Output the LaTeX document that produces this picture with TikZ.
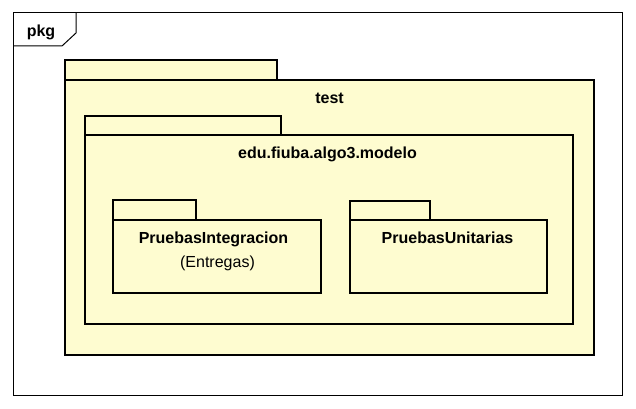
\documentclass[tikz,border=0pt]{standalone}
\usepackage{fontspec}
\setmainfont{Liberation Sans}
\usepackage{tikz}
\usetikzlibrary{calc}
\definecolor{pkgfill}{RGB}{254,252,208}
\tikzset{
	pkgline/.style={draw=black, line width=1.9pt, fill=pkgfill},
	pkgname/.style={font=\bfseries\fontsize{12}{14}\selectfont, anchor=base, inner sep=0pt},
	pkgnote/.style={font=\fontsize{12}{14}\selectfont, anchor=base, inner sep=0pt}
}
% tab + body of one package: (left,tab top)(tab right,body top)(right,bottom)
\def\umlpackage(#1,#2)(#3,#4)(#5,#6){
	\draw[pkgline] (#1, #2) rectangle (#3, #4);
	\draw[pkgline] (#1, #4) rectangle (#5, #6);
}

\begin{document}
\begin{tikzpicture}[x=0.75pt, y=-0.75pt]
			%%%%% START %%%%%
			
			\useasboundingbox (0, 0) rectangle (636, 409);
			
			% frame
			\draw[line width=0.75pt] (13, 13) rectangle (622, 396);
			\draw[line width=0.75pt] (13, 46) -- (62, 46) -- (76, 33) -- (76, 13);
			\node[pkgname] (frame) at (41, 37) {pkg};
			
			\umlpackage(65, 60)(277, 80)(594, 355)
			\node[pkgname] (test) at (329.5, 104) {test};
			
			\umlpackage(85, 116)(281, 135)(573, 324)
			\node[pkgname] (modelo) at (327.5, 159) {edu.fiuba.algo3.modelo};
			
			\umlpackage(113, 200)(196, 220)(321, 293)
			\node[pkgname] (integracion) at (213.5, 244) {PruebasIntegracion};
			\node[pkgnote] (entregas) at (217.5, 268) {(Entregas)};
			
			\umlpackage(350, 201)(430, 220)(547, 293)
			\node[pkgname] (unitarias) at (447.5, 244) {PruebasUnitarias};
			
			%%%%% END %%%%%
		\end{tikzpicture}
\end{document}
